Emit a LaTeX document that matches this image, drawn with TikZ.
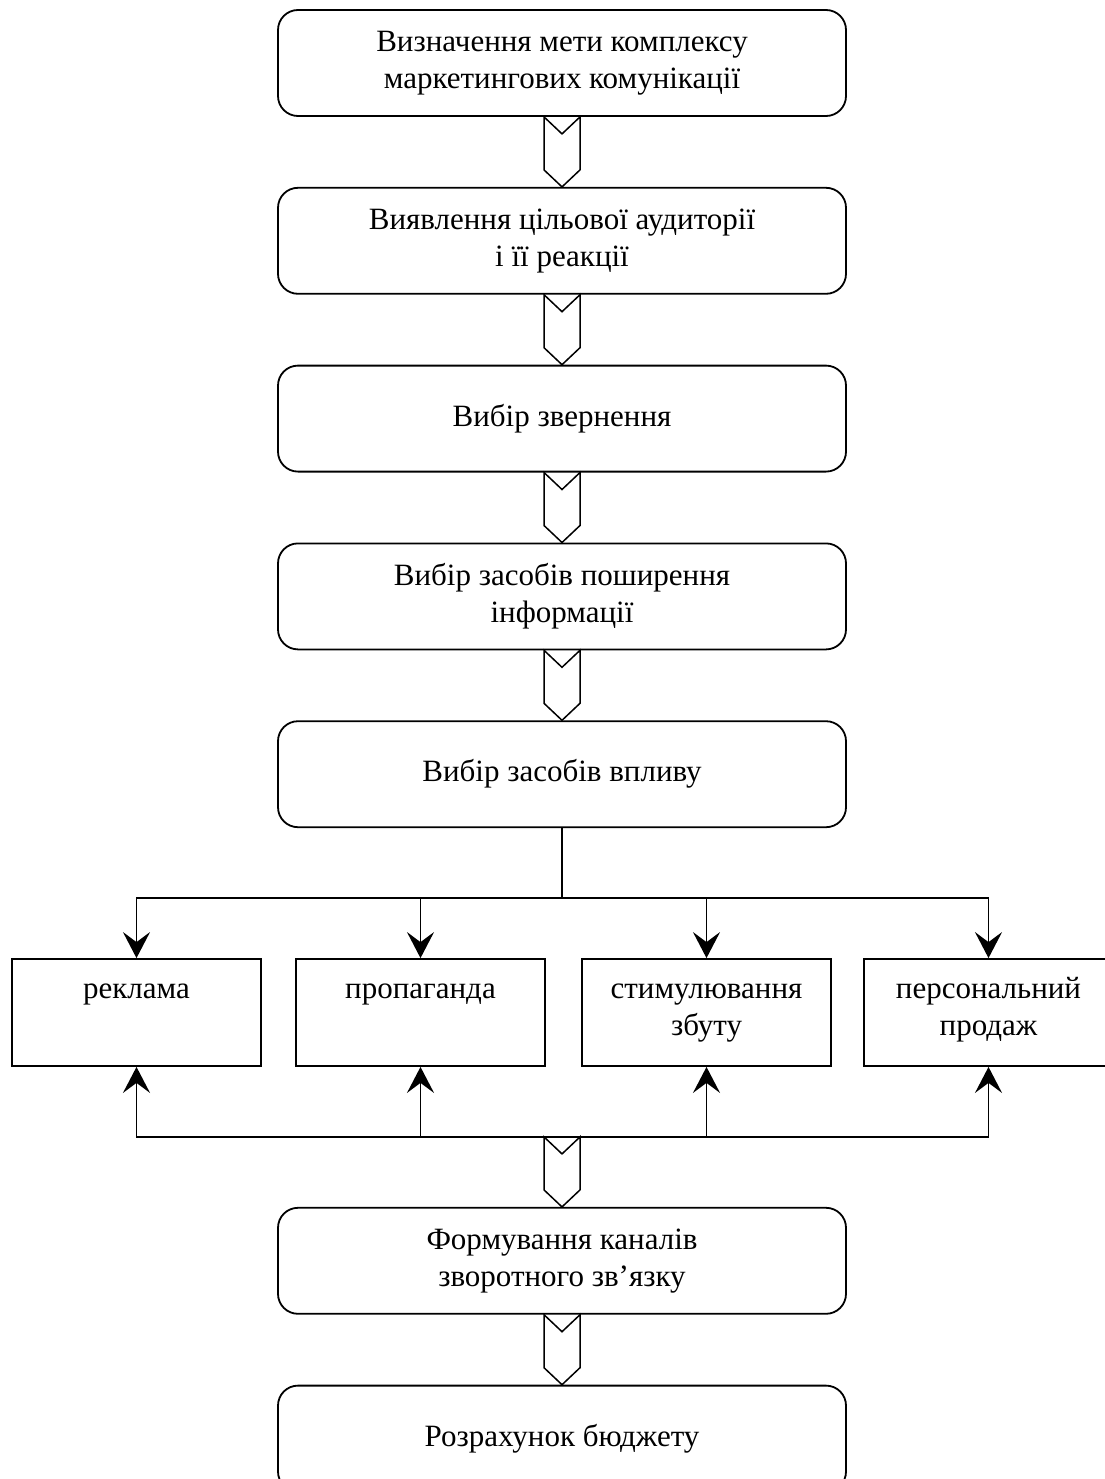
\documentclass[tikz,border=0pt]{standalone}
\usepackage{fontspec}
\setmainfont{Liberation Serif}
\usepackage{tikz}
\usetikzlibrary{arrows.meta,positioning,calc}

% hollow chevron between two stages
\newcommand{\chevarrow}[2]{%
  \draw[chev] ($(#1)+(-18,0)$) -- ($(#1)+(0,-17)$) -- ($(#1)+(18,0)$)
    -- ($(#2)+(18,17)$) -- (#2) -- ($(#2)+(-18,17)$) -- cycle;}
\newcommand{\topstrut}{\rule{0pt}{27pt}}

\begin{document}
\begin{tikzpicture}[
    x=1pt, y=1pt,
    node distance=70pt,
    font=\fontsize{31}{37}\selectfont,
    stage/.style={
        draw,
        line width=1.8pt,
        rounded corners=20pt,
        align=center,
        minimum width=568pt,
        minimum height=106pt,
        inner sep=0pt
    },
    tool/.style={
        draw,
        line width=1.8pt,
        minimum width=249pt,
        minimum height=107pt,
        inner sep=0pt
    },
    tooltext/.style={
        anchor=north,
        align=center,
        inner sep=0pt,
        yshift=-13pt
    },
    chev/.style={line width=1.5pt, line join=miter},
    link/.style={line width=1.8pt},
    line/.style={line width=1.8pt, -{Stealth[length=26pt, width=27pt, inset=10pt]}}
]
\useasboundingbox (0,0) rectangle (1104,-1479);

% ---- Main stages ----
\node[stage] (goal) at (562,-63) {Визначення мети комплексу\\маркетингових комунікації};
\node[stage, below=of goal] (audience) {Виявлення цільової аудиторії\\і її реакції};
\node[stage, below=of audience] (appeal) {Вибір звернення};
\node[stage, below=of appeal] (media) {Вибір засобів поширення\\інформації};
\node[stage, below=of media] (impact) {Вибір засобів впливу};

% ---- Means of influence ----
\node[tool] (ads) at (136.5,-1012.5) {};
\node[tool] (pr) at (420.5,-1012.5) {};
\node[tool] (promo) at (706.5,-1012.5) {};
\node[tool] (sales) at (988.5,-1012.5) {};

\node[tooltext] (ads-t) at (ads.north) {\topstrut реклама};
\node[tooltext] (pr-t) at (pr.north) {\topstrut пропаганда};
\node[tooltext] (promo-t) at (promo.north) {\topstrut стимулювання\\збуту};
\node[tooltext] (sales-t) at (sales.north) {\topstrut персональний\\продаж};

\coordinate (split) at ($(impact.south)+(0,-70)$);
\coordinate (merge) at ($(impact.south |- ads.south)+(0,-70)$);

% ---- Final stages ----
\node[stage, below=of merge] (feedback) {Формування каналів\\зворотного зв’язку};
\node[stage, below=of feedback] (budget) {Розрахунок бюджету};

% ---- Connections ----
\chevarrow{goal.south}{audience.north}
\chevarrow{audience.south}{appeal.north}
\chevarrow{appeal.south}{media.north}
\chevarrow{media.south}{impact.north}

\draw[link] (impact.south) -- (split);
\foreach \t in {ads,pr,promo,sales}
    \draw[line] (split) -| (\t.north);
\foreach \t in {ads,pr,promo,sales}
    \draw[line] (merge) -| (\t.south);

\chevarrow{merge}{feedback.north}
\chevarrow{feedback.south}{budget.north}

\end{tikzpicture}
\end{document}
